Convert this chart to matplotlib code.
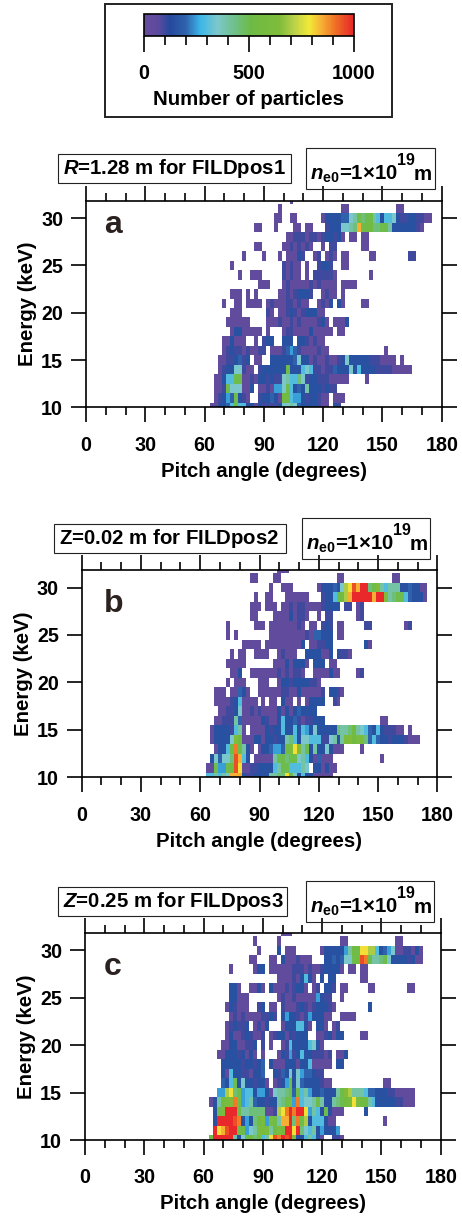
#!/usr/bin/env python3
"""Particle maps (pitch angle vs energy) at three FILD positions. Writes out.png."""

from __future__ import annotations

import matplotlib

matplotlib.use("Agg")
import matplotlib.pyplot as plt
import numpy as np
from matplotlib.cm import ScalarMappable
from matplotlib.colors import LinearSegmentedColormap, Normalize
from matplotlib.patches import Rectangle
from matplotlib.ticker import MultipleLocator

W, H = 462, 1217

# one char per 2 degree pitch bin (first bin centred on 64 deg)
# . = no particles, then steps of 50 particles: 1=50 ... 9=450, A=500 ... K=1000
STEP_CODES = ".123456789ABCDEFGHIJK"
PARTICLES_PER_STEP = 50
FIRST_PITCH = 64
ENERGIES = list(range(32, 9, -1))  # keV, top row first

ROWS_A = [
    ".......... .......... 1",
    ".......... .......1.. .......... ...11..... .......11.",
    ".......... ......11.. 11......13 3334478A9A A863667322 332211",
    ".......... .11...1... .11.11...2 3337789HAB B99AA83333 3321",
    ".......... .........1 1222122123 3231.11.11",
    ".......... .11.....11 212121..1. 22......11",
    "........1. ...1...1.1 1132..12.1 21.11..... 11........ 22",
    ".....1.... ........21 211.1..233 2..11.....",
    ".......1.. 111.....21 211.1.2222 21........ 1",
    ".......... ..111...12 1111121211 11.1111...",
    ".....111.1 .1.....112 123332..12 11.1......",
    "...1..11.1 111.121112 21211..121 3.31....11",
    ".....111.. ....21.112 321233311.",
    "....111111 ....111211 2121111231 .1113.....",
    ".....13311 111.1...12 2111131111 1.11......",
    "...113111. .1.233..33 3.3321211.",
    "...1232212 1122.11124 5421111211 .......... ....1.....",
    "..11223423 .11..33333 3473312112 1123733333 2221111.1.",
    "..12337721 1.2333333A 3336762212 2433373633 3322221111 1",
    ".11366AA11 2133232278 6697233222 11111....1",
    ".112A77711 3.1121557A 6343833323 22",
    ".12354A321 ..233431BB 6553233211 .111",
    "113346A663 3132222377 8743333211 .32",
]

ROWS_B = [
    ".......... ........11 1",
    ".......... .11....11. .......... ...11..... .......11.",
    ".......... ......1..1 11......13 33437EGJHK K9AD868883 343311",
    ".......... ..1..11... 111111...2 336ABEHKKK KKHKKD89AA 643331",
    ".......... .111.111.1 1212211112 3333.22.12",
    ".......... .11....111 131221..1. 22......12",
    ".....1.... ..111.1111 11121.11.2 32.11..... 22........ 12",
    ".....1.1.. ......1111 1111121443 33.11.....",
    ".........1 1111.11111 11113.1122 33........ 31",
    "......1.11 ..1111..12 111..33331 13.3221...",
    ".....11111 .......111 313331.333 .11",
    "......113. .111111121 21221..111 1311....12",
    ".....1.111 ...111..13 323333221.",
    "..111.1143 1..1111112 2113111112 .3321",
    "..11112361 111.1.11.3 11.1.13333 ..21",
    "...1122371 1212111131 31343333..",
    "..11222841 1111321136 3342122333 .......... ....11....",
    ".133332681 .111132336 3363653733 3339889B87 6436322211 .1",
    ".133337DB1 1133133233 8963776662 27838CDBCC 9464332333 2111",
    "..1336AIA8 31.1334554 BCGD8A3833 73111....1",
    ".374779JH6 3.111118AA 9AA7863141 11........ ....1",
    "11A55ABJG1 122333368A A66687.331 311",
    "668687HHH3 2233338899 GA73633111 11",
]

ROWS_C = [
    ".......... ........11 1",
    ".......... .1.....1.. .......... ...11..... .......11.",
    ".......... ..1....3.1 11......13 333358BAGG EE63457112 2131",
    ".......... 11...11.31 112111...3 343477ABJI A889A73333 2311",
    ".....1.... .133.11111 1222121123 3331.11.11",
    ".......... .......111 1213631.3. 33......11",
    ".....331.. 1131.31112 12331.12.3 32.11..... 11........ 11",
    ".....33111 .......121 1211111532 2..1",
    "....132111 ..23.11.21 1123212333 21........ 3",
    ".....12121 1112232.35 3321253331 1..1111",
    "....123223 .1213...13 336631.331 .12",
    "....131123 2112.12331 32333..112 3133....11",
    "...1133112 23.2.1..12 633336731.",
    "..11333231 31.1...132 5236332221 2.113",
    "...3333323 3234.31113 3313361111 1.33",
    "...3163322 1334..3243 737544322.",
    "...436A373 32331.1235 A374333321 1......... ....11",
    "..55EG9A56 6355317889 A4A6853343 338ADE8886 4433322111 11",
    "138BCDIA56 843323389A C5I6778A83 389ABCGCBB 8633333221 11",
    ".3ACKKKA88 9999112EGI KIKKG5863A 3111.....3",
    ".3KKKKJI35 39BC5CA8HH K9IAE36663 11........ ....1",
    ".KGHJKKAB5 78CCC8BCBK KGK9768353 335",
    "AKKKKK837A B9B68GJIKJ KD3368631. .221",
]

PANEL_LETTERS = ["a", "b", "c"]
POSITION_LABELS = [
    r"$\mathbfit{R}$=1.28 m for FILDpos1",
    r"$\mathbf{Z}$=0.02 m for FILDpos2",
    r"$\mathbfit{Z}$=0.25 m for FILDpos3",
]
DENSITY_LABEL = r"$\mathbfit{n}_{\mathbf{e0}}$=1×10"
DENSITY_POWER = "19"
DENSITY_UNIT = "m"

# colormap stops
CMAP_STOPS = [
    (0.0, "#6a4c9c"), (0.07, "#5b4a9e"), (0.125, "#24499e"), (0.20, "#2f62ac"),
    (0.27, "#3cb6e8"), (0.35, "#7cc8cc"), (0.43, "#6fc08c"), (0.51, "#6dbb45"),
    (0.65, "#7fbc3a"), (0.72, "#bcd24a"), (0.79, "#f3e936"), (0.86, "#f6a532"),
    (0.92, "#ee6a24"), (1.0, "#e8282a"),
]

plt.rcParams["font.family"] = ["Liberation Sans", "DejaVu Sans"]
plt.rcParams["font.weight"] = "bold"
plt.rcParams["mathtext.fontset"] = "custom"
plt.rcParams["mathtext.rm"] = "Liberation Sans:bold"
plt.rcParams["mathtext.bf"] = "Liberation Sans:bold"
plt.rcParams["mathtext.bfit"] = "Liberation Sans:italic:bold"
plt.rcParams["mathtext.default"] = "regular"

CMAP = LinearSegmentedColormap.from_list("particles", CMAP_STOPS)
NORM = Normalize(0, 1000)
TICK_FS = 14.2
LABEL_FS = 14.7


def px_axes(fig, left, top, right, bottom):
    return fig.add_axes([left / W, 1 - bottom / H, (right - left) / W, (bottom - top) / H])


def decode(rows):
    n_bins = 57
    grid = np.zeros((len(rows), n_bins))
    for i, row in enumerate(rows):
        for j, ch in enumerate(row.replace(" ", "")):
            grid[i, j] = STEP_CODES.index(ch) * PARTICLES_PER_STEP
    return np.ma.masked_equal(grid, 0)


def draw_panel(fig, rect, rows):
    ax = px_axes(fig, *rect)
    grid = decode(rows)
    pitch_edges = FIRST_PITCH - 1 + 2 * np.arange(grid.shape[1] + 1)
    energy_edges = np.array(ENERGIES + [ENERGIES[-1] - 1]) + 0.5
    ax.pcolormesh(pitch_edges, energy_edges, grid, cmap=CMAP, norm=NORM, linewidth=0)
    ax.set_xlim(0, 180)
    ax.set_ylim(10, 31.85)
    ax.xaxis.set_major_locator(MultipleLocator(30))
    ax.xaxis.set_minor_locator(MultipleLocator(10))
    ax.yaxis.set_major_locator(MultipleLocator(5))
    ax.tick_params(axis="x", which="major", direction="out", length=11, width=1.2,
                   top=True, pad=9.5, labelsize=TICK_FS)
    ax.tick_params(axis="x", which="minor", direction="out", length=5.8, width=1.2, top=True)
    ax.tick_params(axis="y", which="major", direction="out", length=11, width=1.2,
                   right=True, pad=5.5, labelsize=TICK_FS)
    for side in ax.spines:
        ax.spines[side].set_linewidth(1.2)
    ax.set_xlabel("Pitch angle (degrees)", fontsize=LABEL_FS, fontweight="bold", labelpad=5)
    ax.set_ylabel("Energy (keV)", fontsize=LABEL_FS, fontweight="bold", labelpad=3)
    return ax


def position_box(overlay, box, label):
    left, top, right, bottom = box
    overlay.add_patch(Rectangle((left, top), right - left, bottom - top, fill=False,
                                edgecolor="#222222", linewidth=0.8))
    overlay.text(left + 5, (top + bottom) / 2, label, fontsize=LABEL_FS, fontweight="bold",
                 ha="left", va="center")


def density_box(overlay, box):
    left, top, right, bottom = box
    overlay.add_patch(Rectangle((left, top), right - left, bottom - top, fill=False,
                                edgecolor="#222222", linewidth=0.8))
    overlay.text(left + 4, bottom - 9, DENSITY_LABEL, fontsize=LABEL_FS, fontweight="bold",
                 ha="left", va="baseline")
    overlay.text(left + 91, bottom - 24, DENSITY_POWER, fontsize=11.5, fontweight="bold",
                 ha="left", va="baseline")
    overlay.text(left + 108, bottom - 9, DENSITY_UNIT, fontsize=LABEL_FS, fontweight="bold",
                 ha="left", va="baseline")


def main() -> None:
    fig = plt.figure(figsize=(W / 100, H / 100), dpi=100)

    draw_panel(fig, (86, 200.7, 441.7, 407.3), ROWS_A)
    draw_panel(fig, (81.7, 570, 437.3, 777.3), ROWS_B)
    draw_panel(fig, (85, 932.7, 440.7, 1140), ROWS_C)

    overlay = fig.add_axes([0, 0, 1, 1], facecolor="none")
    overlay.set_xlim(0, W)
    overlay.set_ylim(H, 0)
    overlay.axis("off")

    overlay.add_patch(Rectangle((105, 4), 287, 113, fill=False, edgecolor="#222222", linewidth=1.4))
    position_box(overlay, (58, 154, 291, 183), POSITION_LABELS[0])
    density_box(overlay, (306, 148, 435, 189))
    position_box(overlay, (54, 524, 286, 553), POSITION_LABELS[1])
    density_box(overlay, (302, 518, 430, 559))
    position_box(overlay, (58, 887, 287, 916), POSITION_LABELS[2])
    density_box(overlay, (306, 881, 434, 922))

    for letter, x, y in zip(PANEL_LETTERS, (113, 114, 113), (232.7, 611.7, 975)):
        overlay.text(x, y, letter, fontsize=23, fontweight="bold", color="#2b2220",
                     ha="center", va="baseline")

    cax = px_axes(fig, 143.5, 13.5, 353.5, 36)
    cbar = fig.colorbar(ScalarMappable(norm=NORM, cmap=CMAP), cax=cax, orientation="horizontal")
    cbar.set_ticks([0, 500, 1000])
    cbar.ax.xaxis.set_minor_locator(MultipleLocator(100))
    cbar.ax.tick_params(axis="x", which="major", length=11.5, width=1.2, pad=9, labelsize=TICK_FS)
    cbar.ax.tick_params(axis="x", which="minor", length=6.5, width=1.2)
    cbar.outline.set_linewidth(1.2)
    cbar.set_label("Number of particles", fontsize=LABEL_FS, fontweight="bold", labelpad=5)

    fig.savefig("out.png", dpi=100)


if __name__ == "__main__":
    main()
